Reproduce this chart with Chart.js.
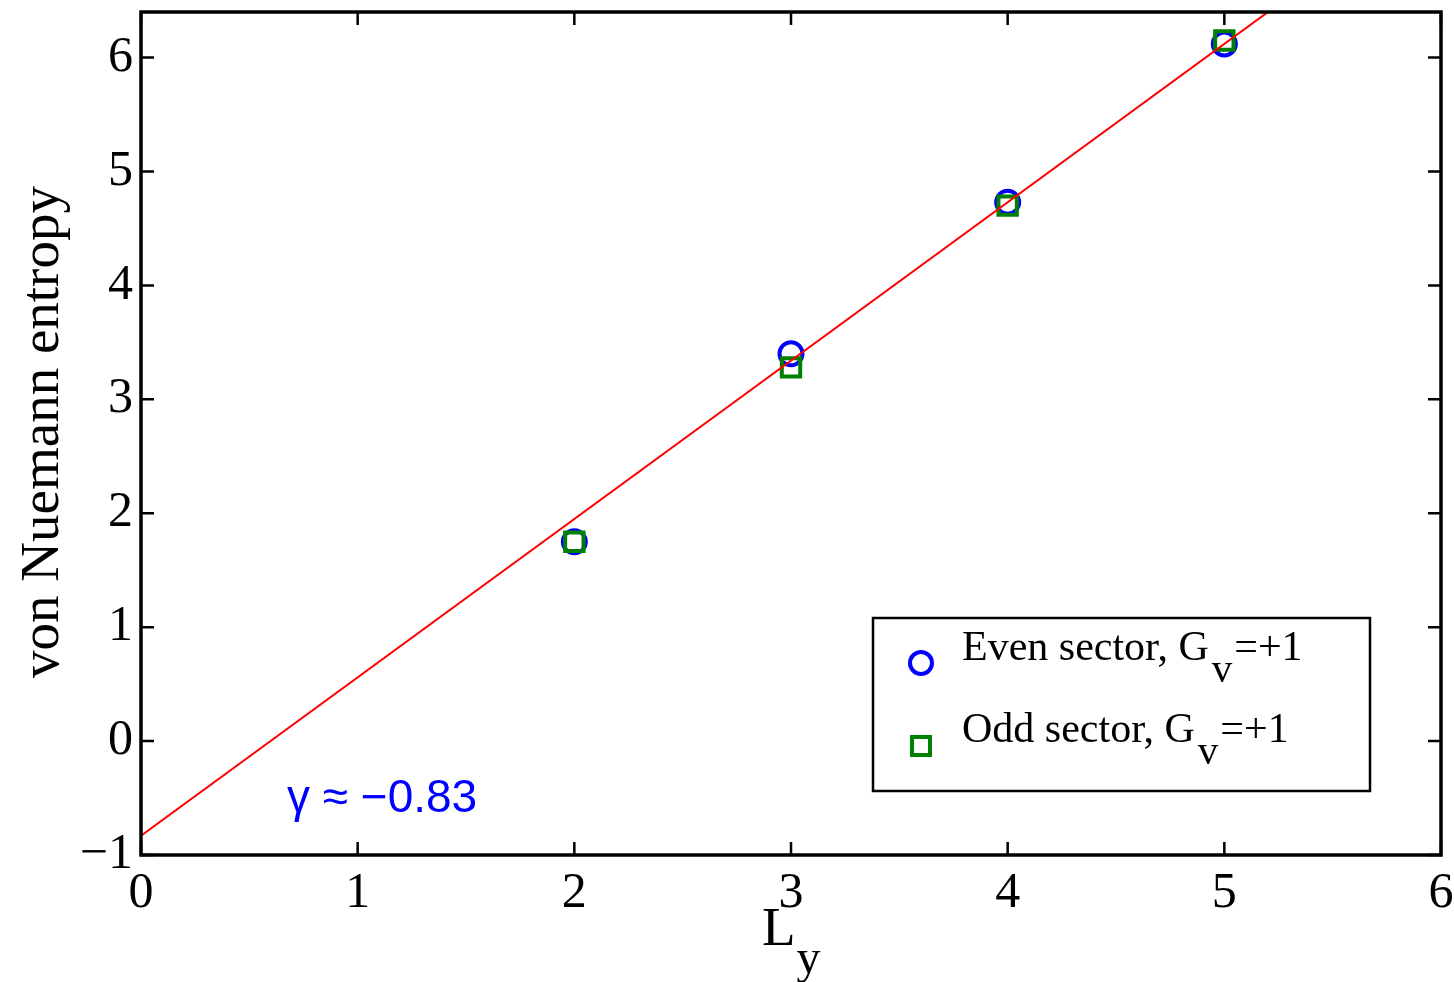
<!DOCTYPE html>
<html>
<head>
<meta charset="utf-8">
<title>von Neumann entropy vs Ly</title>
<script src="https://cdn.jsdelivr.net/npm/chart.js@4.4.1/dist/chart.umd.min.js"></script>
<style>
  html, body { margin: 0; padding: 0; background: #fff; overflow: hidden; }
  #wrap { width: 1454px; height: 982px; overflow: hidden; position: relative; }
  /* the canvas sits 5px higher so the plot box lands 12px from the top */
  #entropyChart { display: block; position: absolute; left: 0; top: -5px; }
</style>
</head>
<body>
<div id="wrap"><canvas id="entropyChart" width="1458" height="987"></canvas></div>
<script>
// system widths
const lyValues = [2, 3, 4, 5];
// entropy in each sector
const evenEntropy = [1.75, 3.40, 4.73, 6.12];
const oddEntropy = [1.75, 3.28, 4.70, 6.15];
// linear fit S = a*Ly + gamma, endpoints at Ly = 0 and Ly = 6
const fitLy = [0, 6];
const fitEntropy = [-0.83, 7.51];
const gammaText = 'γ ≈ −0.83';

const xTicks = [0, 1, 2, 3, 4, 5, 6];
const yTicks = [-1, 0, 1, 2, 3, 4, 5, 6];

const SERIF = "'Liberation Serif', 'Times New Roman', serif";
const SANS = "'Liberation Sans', Arial, sans-serif";
const SHIFT_Y = 5; // canvas offset, see CSS

function toPoints(xs, ys) {
    return xs.map((x, i) => ({ x: x, y: ys[i] }));
}

// keep the plot box fixed: no extra room for overhanging tick labels
function noPadding(s) {
    s.paddingLeft = 0;
    s.paddingRight = 0;
    s.paddingTop = 0;
    s.paddingBottom = 0;
}

// frame with inward ticks on all sides, titles, legend and fit label
const decorations = {
    id: 'decorations',
    afterDraw(chart) {
        const ctx = chart.ctx;
        const area = chart.chartArea;
        const xs = chart.scales.x;
        const ys = chart.scales.y;
        const tickLen = 13;

        ctx.save();
        ctx.strokeStyle = '#000';
        ctx.lineWidth = 2.5;
        ctx.beginPath();
        xTicks.forEach(v => {
            const px = xs.getPixelForValue(v);
            ctx.moveTo(px, area.bottom); ctx.lineTo(px, area.bottom - tickLen);
            ctx.moveTo(px, area.top); ctx.lineTo(px, area.top + tickLen);
        });
        yTicks.forEach(v => {
            const py = ys.getPixelForValue(v);
            ctx.moveTo(area.left, py); ctx.lineTo(area.left + tickLen, py);
            ctx.moveTo(area.right, py); ctx.lineTo(area.right - tickLen, py);
        });
        ctx.stroke();
        ctx.lineWidth = 3.5;
        ctx.strokeRect(area.left, area.top, area.right - area.left, area.bottom - area.top);

        // text and legend below are placed in page coordinates
        ctx.translate(0, SHIFT_Y);

        // y title
        ctx.fillStyle = '#000';
        ctx.font = '55px ' + SERIF;
        ctx.textAlign = 'center';
        ctx.textBaseline = 'alphabetic';
        ctx.save();
        ctx.translate(58, 432);
        ctx.rotate(-Math.PI / 2);
        ctx.fillText('von Nuemann entropy', 0, 0);
        ctx.restore();

        // x title L_y
        ctx.textAlign = 'left';
        ctx.font = '55px ' + SERIF;
        ctx.fillText('L', 762, 945);
        const lw = ctx.measureText('L').width;
        ctx.font = '48px ' + SERIF;
        ctx.fillText('y', 762 + lw + 1, 973);

        // fit label
        ctx.fillStyle = '#0000ff';
        ctx.font = '46px ' + SANS;
        ctx.fillText(gammaText, 287, 812);

        // legend
        const box = { left: 873, top: 618, right: 1370, bottom: 791 };
        ctx.fillStyle = '#fff';
        ctx.fillRect(box.left, box.top, box.right - box.left, box.bottom - box.top);
        ctx.strokeStyle = '#000';
        ctx.lineWidth = 2.5;
        ctx.strokeRect(box.left, box.top, box.right - box.left, box.bottom - box.top);

        ctx.lineWidth = 4;
        ctx.strokeStyle = '#0000ff';
        ctx.beginPath();
        ctx.arc(921, 663, 11, 0, Math.PI * 2);
        ctx.stroke();
        ctx.strokeStyle = '#008000';
        ctx.strokeRect(921 - 9, 746 - 9, 18, 18);

        const rows = [
            { name: 'Even sector, G', base: 660 },
            { name: 'Odd sector, G', base: 742 }
        ];
        rows.forEach(r => {
            ctx.fillStyle = '#000';
            ctx.font = '42px ' + SERIF;
            ctx.fillText(r.name, 962, r.base);
            let x = 962 + ctx.measureText(r.name).width + 3;
            ctx.font = '41px ' + SERIF;
            ctx.fillText('v', x, r.base + 22);
            x += ctx.measureText('v').width + 2;
            ctx.font = '42px ' + SERIF;
            ctx.fillText('=+1', x, r.base);
        });
        ctx.restore();
    }
};

new Chart(document.getElementById('entropyChart'), {
    type: 'scatter',
    data: {
        datasets: [
            {
                label: 'fit',
                type: 'line',
                data: toPoints(fitLy, fitEntropy),
                borderColor: '#ff0000',
                borderWidth: 2,
                pointRadius: 0,
                fill: false,
                order: 0
            },
            {
                label: 'Odd sector, Gv=+1',
                data: toPoints(lyValues, oddEntropy),
                pointStyle: 'rect',
                pointRadius: 13,
                borderWidth: 4,
                pointBorderWidth: 4,
                borderColor: '#008000',
                backgroundColor: 'rgba(0,0,0,0)',
                order: 1
            },
            {
                label: 'Even sector, Gv=+1',
                data: toPoints(lyValues, evenEntropy),
                pointStyle: 'circle',
                pointRadius: 11.5,
                borderWidth: 4,
                pointBorderWidth: 4,
                borderColor: '#0000ff',
                backgroundColor: 'rgba(0,0,0,0)',
                order: 2
            }
        ]
    },
    options: {
        responsive: false,
        animation: false,
        layout: { padding: { left: 0, top: 7, right: 9, bottom: 0 } },
        plugins: {
            legend: { display: false },
            tooltip: { enabled: false }
        },
        scales: {
            x: {
                type: 'linear',
                min: 0,
                max: 6,
                grid: { display: false, drawTicks: false },
                border: { display: false },
                afterFit: s => { s.height = 127; noPadding(s); },
                afterBuildTicks: s => { s.ticks = xTicks.map(v => ({ value: v })); },
                ticks: {
                    padding: 9,
                    color: '#000',
                    font: { family: SERIF, size: 50 }
                }
            },
            y: {
                type: 'linear',
                min: -1,
                max: 6.4,
                grid: { display: false, drawTicks: false },
                border: { display: false },
                afterFit: s => { s.width = 141; noPadding(s); },
                afterBuildTicks: s => { s.ticks = yTicks.map(v => ({ value: v })); },
                ticks: {
                    padding: 8,
                    color: '#000',
                    font: { family: SERIF, size: 50 },
                    callback: v => (v < 0 ? '−' + Math.abs(v) : String(v))
                }
            }
        }
    },
    plugins: [decorations]
});
</script>
</body>
</html>
